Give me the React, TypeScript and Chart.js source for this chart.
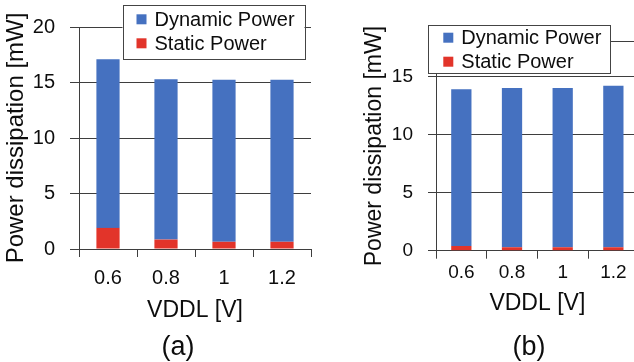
import React, { useEffect, useRef } from 'react';
import { Chart, registerables } from 'chart.js';

Chart.register(...registerables);

// ---- data ----
const categories = ['0.6', '0.8', '1', '1.2'];
const seriesLabels = ['Static Power', 'Dynamic Power'];
const staticPowerA = [1.9, 0.85, 0.65, 0.65];
const dynamicPowerA = [15.2, 14.45, 14.6, 14.6];
const staticPowerB = [0.4, 0.3, 0.3, 0.3];
const dynamicPowerB = [13.5, 13.7, 13.7, 13.9];
const yTicksA = [0, 5, 10, 15, 20];
const yTicksB = [0, 5, 10, 15];
const yMaxA = 20;
const yMaxB = 18;
const xTitle = 'VDDL [V]';
const yTitle = 'Power dissipation [mW]';
const captions = ['(a)', '(b)'];

const FAMILY = '"Liberation Sans", Arial, Helvetica, sans-serif';
const BLUE = '#4571C0';
const RED = '#E2342A';
const GRID = '#3e3e3e';
const TEXT = '#0d0d0d';

const boxLegend = {
  id: 'boxLegend',
  afterDraw(chart: any, _args: any, o: any) {
    const { ctx } = chart;
    ctx.save();
    ctx.fillStyle = '#ffffff';
    ctx.fillRect(o.left, o.top, o.width, o.height);
    ctx.strokeStyle = '#444444';
    ctx.lineWidth = 1;
    ctx.strokeRect(Math.round(o.left) + 0.5, Math.round(o.top) + 0.5, Math.round(o.width), Math.round(o.height));
    const items = chart.data.datasets.slice().reverse();
    items.forEach((ds: any, i: number) => {
      const cy = o.top + o.firstRow + i * o.rowGap;
      ctx.fillStyle = ds.backgroundColor;
      ctx.fillRect(o.left + o.swatchX, cy - o.swatch / 2, o.swatch, o.swatch);
      ctx.fillStyle = TEXT;
      ctx.font = `${o.fontSize}px ${FAMILY}`;
      ctx.textBaseline = 'middle';
      ctx.textAlign = 'left';
      ctx.fillText(ds.label, o.left + o.textX, cy + 1);
    });
    ctx.restore();
  },
};

type Params = {
  width: number;
  height: number;
  staticData: number[];
  dynamicData: number[];
  yMax: number;
  yTicks: number[];
  padding: { left: number; right: number; top: number; bottom: number };
  yWidth: number;
  xHeight: number;
  yTickFont: number;
  yTickPad: number;
  yTickLen: number;
  yTitleFont: number;
  yTitlePad: number;
  xTickFont: number;
  xTickPad: number;
  xTickLen: number;
  xTitleFont: number;
  legend: any;
};

function PowerChart(p: Params) {
  const ref = useRef<HTMLCanvasElement | null>(null);
  useEffect(() => {
    if (!ref.current) return;
    const tickValues = p.yTicks.includes(p.yMax) ? p.yTicks : [...p.yTicks, p.yMax];
    const chart = new Chart(ref.current, {
      type: 'bar',
      data: {
        labels: categories,
        datasets: [
          { label: seriesLabels[0], data: p.staticData, backgroundColor: RED, borderWidth: 0 },
          { label: seriesLabels[1], data: p.dynamicData, backgroundColor: BLUE, borderWidth: 0 },
        ],
      },
      options: {
        responsive: false,
        animation: false,
        devicePixelRatio: 1,
        layout: { padding: p.padding },
        datasets: { bar: { barPercentage: 0.4, categoryPercentage: 1 } },
        plugins: {
          legend: { display: false },
          tooltip: { enabled: false },
          boxLegend: p.legend,
        } as any,
        scales: {
          x: {
            stacked: true,
            offset: true,
            grid: {
              offset: true,
              drawOnChartArea: false,
              drawTicks: true,
              tickLength: p.xTickLen,
              color: GRID,
            },
            border: { display: true, color: GRID },
            ticks: {
              color: TEXT,
              font: { family: FAMILY, size: p.xTickFont },
              padding: p.xTickPad,
              maxRotation: 0,
            },
            title: {
              display: true,
              text: xTitle,
              color: TEXT,
              font: { family: FAMILY, size: p.xTitleFont },
              padding: { top: 0, bottom: 0 },
            },
            afterFit: (s: any) => {
              s.height = p.xHeight;
            },
          },
          y: {
            stacked: true,
            min: 0,
            max: p.yMax,
            grid: {
              drawTicks: true,
              tickLength: p.yTickLen,
              color: GRID,
            },
            border: { display: true, color: GRID },
            ticks: {
              color: TEXT,
              font: { family: FAMILY, size: p.yTickFont },
              padding: p.yTickPad,
              callback: (v: any) => (p.yTicks.includes(Number(v)) ? String(v) : ''),
            },
            afterBuildTicks: (s: any) => {
              s.ticks = tickValues.map((v) => ({ value: v }));
            },
            title: {
              display: true,
              text: yTitle,
              color: TEXT,
              font: { family: FAMILY, size: p.yTitleFont },
              padding: { top: p.yTitlePad, bottom: 0 },
            },
            afterFit: (s: any) => {
              s.width = p.yWidth;
            },
          },
        },
      },
      plugins: [boxLegend as any],
    });
    return () => chart.destroy();
  }, []);
  return (
    <canvas
      ref={ref}
      width={p.width}
      height={p.height}
      style={{ width: p.width, height: p.height, display: 'block' }}
    />
  );
}

const paramsA: Params = {
  width: 320,
  height: 362,
  staticData: staticPowerA,
  dynamicData: dynamicPowerA,
  yMax: yMaxA,
  yTicks: yTicksA,
  padding: { left: 0, right: 9, top: 25, bottom: 37.2 },
  yWidth: 79,
  xHeight: 75.8,
  yTickFont: 20,
  yTickPad: 15,
  yTickLen: 9,
  yTitleFont: 24,
  yTitlePad: 2.2,
  xTickFont: 20,
  xTickPad: 9,
  xTickLen: 8,
  xTitleFont: 23,
  legend: { left: 122.5, top: 5, width: 182, height: 54, firstRow: 14.3, rowGap: 24, fontSize: 20, swatch: 10, swatchX: 14, textX: 32 },
};

const paramsB: Params = {
  width: 330,
  height: 362,
  staticData: staticPowerB,
  dynamicData: dynamicPowerB,
  yMax: yMaxB,
  yTicks: yTicksB,
  padding: { left: 39, right: 11.3, top: 41.5, bottom: 44.2 },
  yWidth: 77,
  xHeight: 67.1,
  yTickFont: 19,
  yTickPad: 15,
  yTickLen: 8,
  yTitleFont: 23,
  yTitlePad: 2,
  xTickFont: 19,
  xTickPad: 3,
  xTickLen: 8,
  xTitleFont: 23,
  legend: { left: 108.3, top: 25, width: 182, height: 48, firstRow: 12.7, rowGap: 24, fontSize: 20, swatch: 10, swatchX: 15, textX: 33 },
};

const captionStyle = (x: number, y: number): React.CSSProperties => ({
  position: 'absolute',
  left: x,
  top: y,
  transform: 'translate(-50%, -50%)',
  fontFamily: FAMILY,
  fontSize: 27,
  lineHeight: 1,
  color: TEXT,
  whiteSpace: 'nowrap',
});

export default function App() {
  return (
    <div
      style={{
        position: 'fixed',
        left: 0,
        top: 0,
        width: 634,
        height: 362,
        overflow: 'hidden',
        background: '#ffffff',
      }}
    >
      <div style={{ position: 'absolute', left: 0, top: 0 }}>
        <PowerChart {...paramsA} />
      </div>
      <div style={{ position: 'absolute', left: 320, top: 0 }}>
        <PowerChart {...paramsB} />
      </div>
      <div style={captionStyle(178, 346)}>{captions[0]}</div>
      <div style={captionStyle(529, 346)}>{captions[1]}</div>
    </div>
  );
}
